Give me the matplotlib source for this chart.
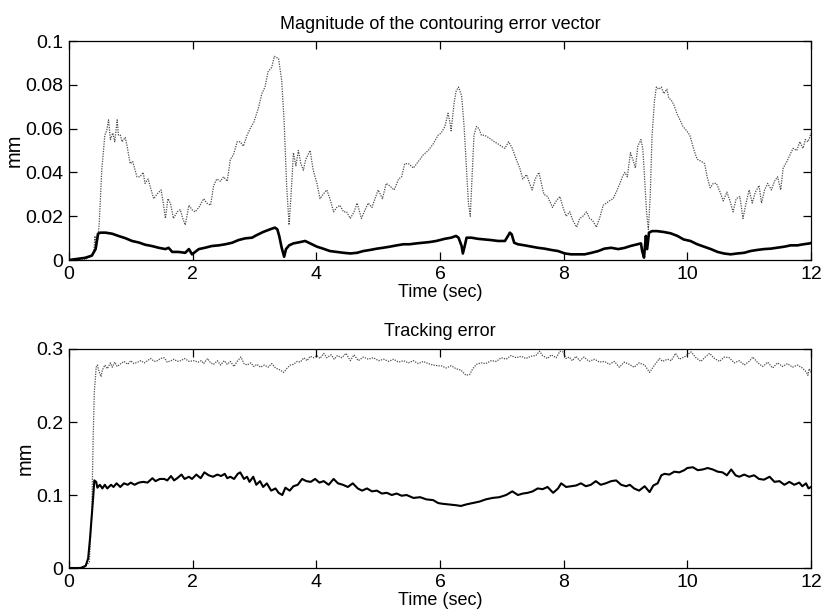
import matplotlib
matplotlib.use('Agg')
import matplotlib.pyplot as plt

# ---- data ----
top_dot_t = [0, 0.25, 0.37, 0.40, 0.42, 0.44, 0.47, 0.49, 0.53, 0.58, 0.61, 0.64, 0.67, 0.71, 0.74, 0.78, 0.80, 0.83,
             0.86, 0.91, 0.94, 0.99, 1.03, 1.06, 1.10, 1.15, 1.20, 1.23, 1.28, 1.32, 1.37, 1.42, 1.49, 1.53, 1.56, 1.60,
             1.64, 1.69, 1.75, 1.80, 1.84, 1.88, 1.94, 1.99, 2.04, 2.10, 2.18, 2.23, 2.29, 2.34, 2.39, 2.45, 2.50, 2.56,
             2.61, 2.66, 2.72, 2.77, 2.82, 2.88, 2.93, 2.99, 3.06, 3.12, 3.17, 3.22, 3.28, 3.32, 3.39, 3.44, 3.48, 3.52,
             3.56, 3.59, 3.63, 3.67, 3.71, 3.75, 3.79, 3.83, 3.90, 3.95, 4.01, 4.06, 4.11, 4.17, 4.22, 4.28, 4.33, 4.38,
             4.44, 4.49, 4.55, 4.61, 4.66, 4.73, 4.79, 4.84, 4.90, 4.95, 5.00, 5.07, 5.13, 5.18, 5.26, 5.33, 5.38, 5.43,
             5.49, 5.57, 5.65, 5.73, 5.81, 5.89, 5.97, 6.02, 6.08, 6.13, 6.16, 6.18, 6.23, 6.26, 6.30, 6.35, 6.39, 6.43,
             6.46, 6.49, 6.52, 6.55, 6.59, 6.63, 6.67, 6.72, 6.78, 6.83, 6.88, 6.94, 6.99, 7.05, 7.11, 7.17, 7.22, 7.29,
             7.34, 7.40, 7.45, 7.49, 7.54, 7.60, 7.64, 7.68, 7.74, 7.82, 7.88, 7.94, 7.99, 8.04, 8.10, 8.15, 8.21, 8.26,
             8.31, 8.37, 8.42, 8.47, 8.53, 8.58, 8.64, 8.69, 8.74, 8.80, 8.85, 8.91, 8.95, 8.99, 9.03, 9.08, 9.13, 9.16,
             9.20, 9.25, 9.28, 9.31, 9.34, 9.37, 9.40, 9.43, 9.47, 9.50, 9.54, 9.58, 9.62, 9.67, 9.70, 9.74, 9.78, 9.83,
             9.88, 9.93, 9.99, 10.04, 10.11, 10.16, 10.23, 10.28, 10.32, 10.37, 10.42, 10.47, 10.53, 10.58, 10.64,
             10.69, 10.74, 10.79, 10.85, 10.90, 10.95, 11.00, 11.05, 11.10, 11.16, 11.20, 11.25, 11.30, 11.36, 11.41,
             11.46, 11.51, 11.55, 11.61, 11.66, 11.71, 11.77, 11.82, 11.87, 11.91, 11.95, 11.98, 12.0]
top_dot = [0, 0.0, 0.002, 0.003, 0.011, 0.005, 0.010, 0.017, 0.041, 0.057, 0.059, 0.064, 0.055, 0.058, 0.054, 0.064,
           0.057, 0.057, 0.054, 0.056, 0.052, 0.044, 0.045, 0.042, 0.038, 0.038, 0.040, 0.035, 0.037, 0.033, 0.028,
           0.030, 0.032, 0.025, 0.019, 0.028, 0.026, 0.019, 0.022, 0.023, 0.019, 0.016, 0.025, 0.023, 0.022, 0.024,
           0.028, 0.026, 0.025, 0.034, 0.037, 0.036, 0.038, 0.036, 0.046, 0.048, 0.054, 0.054, 0.052, 0.057, 0.060,
           0.063, 0.069, 0.076, 0.079, 0.086, 0.088, 0.093, 0.092, 0.082, 0.063, 0.034, 0.016, 0.029, 0.049, 0.043,
           0.050, 0.044, 0.041, 0.046, 0.050, 0.041, 0.035, 0.028, 0.030, 0.032, 0.028, 0.022, 0.024, 0.025, 0.022,
           0.022, 0.019, 0.022, 0.026, 0.019, 0.023, 0.026, 0.024, 0.028, 0.032, 0.028, 0.035, 0.034, 0.032, 0.037,
           0.038, 0.044, 0.044, 0.042, 0.045, 0.048, 0.050, 0.053, 0.057, 0.058, 0.061, 0.067, 0.063, 0.059, 0.072,
           0.077, 0.079, 0.075, 0.061, 0.041, 0.026, 0.020, 0.038, 0.057, 0.061, 0.060, 0.057, 0.057, 0.056, 0.055,
           0.054, 0.053, 0.052, 0.051, 0.054, 0.051, 0.047, 0.042, 0.037, 0.039, 0.035, 0.032, 0.037, 0.040, 0.035,
           0.030, 0.029, 0.024, 0.027, 0.029, 0.024, 0.020, 0.022, 0.018, 0.015, 0.019, 0.020, 0.022, 0.019, 0.018,
           0.015, 0.019, 0.025, 0.026, 0.027, 0.028, 0.031, 0.035, 0.038, 0.040, 0.038, 0.049, 0.045, 0.042, 0.052,
           0.055, 0.051, 0.037, 0.022, 0.014, 0.029, 0.057, 0.073, 0.079, 0.078, 0.079, 0.076, 0.078, 0.074, 0.073,
           0.071, 0.067, 0.064, 0.061, 0.059, 0.057, 0.050, 0.046, 0.045, 0.044, 0.038, 0.033, 0.035, 0.035, 0.031,
           0.027, 0.031, 0.027, 0.022, 0.028, 0.029, 0.019, 0.026, 0.032, 0.026, 0.031, 0.034, 0.026, 0.032, 0.035,
           0.032, 0.036, 0.038, 0.032, 0.042, 0.045, 0.048, 0.051, 0.050, 0.054, 0.051, 0.055, 0.054, 0.056, 0.058]

top_sol_t = [0, 0.26, 0.37, 0.43, 0.47, 0.51, 0.59, 0.70, 0.80, 0.91, 1.02, 1.13, 1.23, 1.34, 1.45, 1.56, 1.61, 1.67,
             1.77, 1.88, 1.94, 1.99, 2.10, 2.20, 2.31, 2.42, 2.53, 2.64, 2.74, 2.85, 2.96, 3.03, 3.14, 3.25, 3.33, 3.37,
             3.40, 3.44, 3.48, 3.51, 3.56, 3.63, 3.74, 3.82, 3.90, 4.01, 4.11, 4.22, 4.33, 4.44, 4.55, 4.66, 4.76, 4.87,
             4.98, 5.08, 5.19, 5.30, 5.41, 5.51, 5.62, 5.72, 5.83, 5.94, 6.08, 6.18, 6.26, 6.30, 6.35, 6.37, 6.40, 6.43,
             6.51, 6.61, 6.72, 6.83, 6.94, 7.05, 7.10, 7.13, 7.16, 7.20, 7.26, 7.37, 7.48, 7.58, 7.69, 7.80, 7.91, 8.02,
             8.12, 8.23, 8.34, 8.45, 8.56, 8.66, 8.77, 8.88, 8.98, 9.08, 9.19, 9.25, 9.27, 9.30, 9.33, 9.35, 9.38, 9.43,
             9.51, 9.62, 9.73, 9.84, 9.94, 10.05, 10.16, 10.27, 10.38, 10.49, 10.59, 10.70, 10.81, 10.92, 11.02, 11.13,
             11.24, 11.35, 11.45, 11.57, 11.67, 11.78, 11.88, 11.98, 12.0]
top_sol = [0, 0.001, 0.002, 0.005, 0.012, 0.0125, 0.0125, 0.012, 0.011, 0.010, 0.0087, 0.008, 0.007, 0.0064, 0.0056,
           0.005, 0.0056, 0.0037, 0.0037, 0.0033, 0.005, 0.0026, 0.005, 0.0056, 0.0064, 0.0067, 0.0072, 0.0079,
           0.0091, 0.0099, 0.0102, 0.0113, 0.0128, 0.014, 0.0148, 0.014, 0.011, 0.0056, 0.0015, 0.005, 0.0067,
           0.0076, 0.0082, 0.0087, 0.0076, 0.0061, 0.0052, 0.0041, 0.0037, 0.0033, 0.003, 0.0033, 0.0041, 0.0046,
           0.0052, 0.0056, 0.0061, 0.0067, 0.0072, 0.0072, 0.0076, 0.0079, 0.0082, 0.0087, 0.0097, 0.0102, 0.011,
           0.0102, 0.0064, 0.003, 0.0064, 0.0102, 0.0102, 0.0097, 0.0094, 0.0091, 0.0087, 0.0087, 0.011, 0.0125,
           0.0117, 0.0079, 0.0072, 0.0067, 0.0061, 0.0056, 0.0052, 0.0046, 0.0041, 0.003, 0.0026, 0.0026, 0.0026,
           0.0033, 0.0041, 0.0052, 0.0056, 0.005, 0.0055, 0.0064, 0.0072, 0.0076, 0.0041, 0.0011, 0.011, 0.005,
           0.0125, 0.0132, 0.0132, 0.0128, 0.0122, 0.011, 0.0094, 0.0087, 0.0072, 0.0061, 0.005, 0.0037, 0.003,
           0.0026, 0.003, 0.0033, 0.0041, 0.0046, 0.005, 0.0052, 0.0056, 0.0061, 0.0067, 0.0067, 0.0072, 0.0076, 0.0078]

bot_dot_t = [0, 0.25, 0.33, 0.37, 0.39, 0.41, 0.44, 0.46, 0.49, 0.52, 0.54, 0.58, 0.62, 0.67, 0.70, 0.74, 0.78, 0.84,
             0.89, 0.95, 1.00, 1.05, 1.11, 1.16, 1.22, 1.27, 1.32, 1.38, 1.43, 1.48, 1.54, 1.59, 1.65, 1.70, 1.75, 1.81,
             1.87, 1.94, 2.02, 2.09, 2.14, 2.18, 2.24, 2.29, 2.34, 2.40, 2.45, 2.51, 2.56, 2.61, 2.67, 2.72, 2.78, 2.83,
             2.88, 2.94, 2.99, 3.04, 3.10, 3.16, 3.22, 3.28, 3.34, 3.42, 3.47, 3.53, 3.58, 3.63, 3.69, 3.74, 3.80, 3.85,
             3.90, 3.96, 4.01, 4.06, 4.12, 4.17, 4.24, 4.29, 4.34, 4.41, 4.48, 4.55, 4.61, 4.68, 4.76, 4.84, 4.92, 5.01,
             5.09, 5.17, 5.25, 5.33, 5.41, 5.49, 5.57, 5.65, 5.73, 5.81, 5.89, 5.97, 6.02, 6.10, 6.18, 6.26, 6.34, 6.42,
             6.48, 6.53, 6.59, 6.67, 6.74, 6.83, 6.91, 6.99, 7.07, 7.15, 7.23, 7.31, 7.39, 7.47, 7.55, 7.61, 7.66, 7.74,
             7.80, 7.88, 7.94, 7.99, 8.04, 8.09, 8.14, 8.20, 8.26, 8.33, 8.41, 8.50, 8.58, 8.66, 8.74, 8.82, 8.90, 8.98,
             9.06, 9.14, 9.22, 9.31, 9.39, 9.47, 9.55, 9.60, 9.68, 9.74, 9.81, 9.87, 9.95, 10.06, 10.14, 10.22, 10.29,
             10.36, 10.44, 10.52, 10.60, 10.68, 10.76, 10.84, 10.92, 11.00, 11.06, 11.14, 11.22, 11.30, 11.38, 11.46,
             11.54, 11.62, 11.70, 11.78, 11.86, 11.92, 11.95, 11.97, 12.0]
bot_dot = [0, 0.001, 0.008, 0.081, 0.173, 0.241, 0.275, 0.278, 0.268, 0.262, 0.271, 0.278, 0.273, 0.281, 0.275, 0.282,
           0.276, 0.280, 0.283, 0.279, 0.284, 0.280, 0.282, 0.284, 0.281, 0.284, 0.287, 0.283, 0.284, 0.287, 0.288,
           0.282, 0.284, 0.286, 0.283, 0.284, 0.287, 0.283, 0.284, 0.282, 0.284, 0.280, 0.287, 0.281, 0.279, 0.284,
           0.278, 0.284, 0.279, 0.283, 0.276, 0.283, 0.289, 0.280, 0.278, 0.281, 0.276, 0.279, 0.275, 0.278, 0.275,
           0.280, 0.274, 0.271, 0.268, 0.274, 0.278, 0.279, 0.283, 0.282, 0.288, 0.284, 0.290, 0.288, 0.291, 0.287,
           0.294, 0.288, 0.292, 0.286, 0.291, 0.288, 0.294, 0.284, 0.292, 0.284, 0.289, 0.286, 0.288, 0.284, 0.286,
           0.283, 0.286, 0.282, 0.284, 0.281, 0.284, 0.280, 0.283, 0.280, 0.278, 0.277, 0.277, 0.274, 0.277, 0.273,
           0.271, 0.264, 0.265, 0.273, 0.279, 0.281, 0.280, 0.284, 0.283, 0.288, 0.286, 0.291, 0.288, 0.290, 0.287,
           0.290, 0.291, 0.297, 0.291, 0.287, 0.292, 0.288, 0.297, 0.296, 0.287, 0.289, 0.284, 0.290, 0.284, 0.289,
           0.283, 0.286, 0.282, 0.283, 0.279, 0.283, 0.275, 0.282, 0.279, 0.275, 0.281, 0.278, 0.268, 0.278, 0.287,
           0.283, 0.286, 0.284, 0.294, 0.286, 0.289, 0.296, 0.288, 0.283, 0.289, 0.294, 0.287, 0.283, 0.289, 0.288,
           0.281, 0.284, 0.278, 0.283, 0.289, 0.281, 0.276, 0.282, 0.274, 0.281, 0.276, 0.280, 0.275, 0.278, 0.274,
           0.269, 0.264, 0.273, 0.268]

bot_sol_t = [0, 0.19, 0.27, 0.31, 0.34, 0.37, 0.39, 0.41, 0.44, 0.46, 0.50, 0.54, 0.58, 0.62, 0.68, 0.72, 0.77, 0.83,
             0.89, 0.95, 1.00, 1.06, 1.13, 1.20, 1.27, 1.35, 1.40, 1.47, 1.54, 1.59, 1.65, 1.70, 1.75, 1.82, 1.87, 1.94,
             1.99, 2.06, 2.13, 2.19, 2.26, 2.33, 2.40, 2.46, 2.52, 2.56, 2.61, 2.67, 2.73, 2.77, 2.83, 2.88, 2.92, 2.98,
             3.03, 3.09, 3.14, 3.20, 3.27, 3.34, 3.39, 3.45, 3.50, 3.57, 3.63, 3.70, 3.77, 3.84, 3.91, 3.98, 4.05, 4.12,
             4.20, 4.28, 4.35, 4.43, 4.51, 4.59, 4.67, 4.74, 4.82, 4.90, 4.98, 5.06, 5.14, 5.22, 5.30, 5.38, 5.46, 5.57,
             5.68, 5.78, 5.89, 5.97, 6.04, 6.15, 6.26, 6.34, 6.42, 6.53, 6.64, 6.74, 6.85, 6.96, 7.07, 7.17, 7.26, 7.34,
             7.42, 7.50, 7.58, 7.66, 7.74, 7.83, 7.91, 7.96, 8.04, 8.12, 8.20, 8.28, 8.36, 8.44, 8.52, 8.60, 8.68, 8.77,
             8.85, 8.93, 9.01, 9.07, 9.14, 9.22, 9.31, 9.39, 9.45, 9.52, 9.58, 9.63, 9.71, 9.79, 9.87, 9.95, 10.00,
             10.09, 10.17, 10.25, 10.33, 10.41, 10.49, 10.57, 10.64, 10.71, 10.78, 10.84, 10.92, 11.00, 11.08, 11.16,
             11.24, 11.33, 11.41, 11.49, 11.57, 11.65, 11.73, 11.81, 11.86, 11.92, 11.96, 12.0]
bot_sol = [0, 0, 0.003, 0.013, 0.040, 0.072, 0.095, 0.120, 0.118, 0.110, 0.114, 0.109, 0.114, 0.109, 0.114, 0.111,
           0.116, 0.111, 0.116, 0.114, 0.117, 0.114, 0.117, 0.118, 0.117, 0.123, 0.119, 0.122, 0.122, 0.120, 0.126,
           0.120, 0.123, 0.128, 0.122, 0.125, 0.122, 0.128, 0.123, 0.131, 0.127, 0.125, 0.128, 0.126, 0.129, 0.123,
           0.125, 0.122, 0.129, 0.131, 0.122, 0.125, 0.118, 0.125, 0.114, 0.119, 0.111, 0.116, 0.106, 0.109, 0.103,
           0.100, 0.110, 0.106, 0.112, 0.114, 0.122, 0.119, 0.118, 0.122, 0.117, 0.119, 0.114, 0.122, 0.116, 0.114,
           0.111, 0.116, 0.109, 0.106, 0.109, 0.105, 0.106, 0.102, 0.103, 0.100, 0.102, 0.099, 0.100, 0.096, 0.097,
           0.094, 0.093, 0.089, 0.088, 0.087, 0.086, 0.085, 0.087, 0.089, 0.091, 0.094, 0.096, 0.097, 0.100, 0.105,
           0.100, 0.102, 0.103, 0.105, 0.109, 0.108, 0.111, 0.103, 0.109, 0.116, 0.111, 0.112, 0.113, 0.116, 0.112,
           0.114, 0.119, 0.114, 0.116, 0.119, 0.120, 0.114, 0.112, 0.114, 0.109, 0.106, 0.112, 0.104, 0.113, 0.116,
           0.127, 0.129, 0.128, 0.132, 0.131, 0.134, 0.137, 0.138, 0.134, 0.135, 0.137, 0.135, 0.132, 0.131, 0.127,
           0.135, 0.127, 0.125, 0.128, 0.125, 0.127, 0.122, 0.121, 0.125, 0.118, 0.119, 0.114, 0.118, 0.114, 0.117,
           0.112, 0.116, 0.109, 0.111]

x_ticks = [0, 2, 4, 6, 8, 10, 12]
top_yticks = [0, 0.02, 0.04, 0.06, 0.08, 0.1]
top_ylabels = ['0', '0.02', '0.04', '0.06', '0.08', '0.1']
bot_yticks = [0, 0.1, 0.2, 0.3]
bot_ylabels = ['0', '0.1', '0.2', '0.3']

plt.rcParams['font.family'] = ['Liberation Sans', 'DejaVu Sans']

fig = plt.figure(figsize=(8.22, 6.14), dpi=100)
ax1 = fig.add_axes([0.0839, 0.5765, 0.9027, 0.3567])
ax2 = fig.add_axes([0.0839, 0.0749, 0.9027, 0.3567])


def style(ax, yticks, ylabels, ymax, title):
    ax.set_xlim(0, 12)
    ax.set_ylim(0, ymax)
    ax.set_xticks(x_ticks)
    ax.set_xticklabels([str(v) for v in x_ticks])
    ax.set_yticks(yticks)
    ax.set_yticklabels(ylabels)
    ax.tick_params(direction='in', length=6, width=0.9, top=True, right=True,
                   labelsize=14, pad=4)
    for s in ax.spines.values():
        s.set_linewidth(0.9)
    ax.set_title(title, fontsize=13, pad=9)
    ax.set_xlabel('Time (sec)', fontsize=13, labelpad=1)
    ax.set_ylabel('mm', fontsize=14.5, labelpad=1)


ax1.plot(top_dot_t, top_dot, ls=(0, (1, 1)), lw=0.9, color='0.3')
ax1.plot(top_sol_t, top_sol, ls='-', lw=1.9, color='black')
style(ax1, top_yticks, top_ylabels, 0.1, 'Magnitude of the contouring error vector')

ax2.plot(bot_dot_t, bot_dot, ls=(0, (1, 1)), lw=0.9, color='0.3')
ax2.plot(bot_sol_t, bot_sol, ls='-', lw=1.5, color='black')
style(ax2, bot_yticks, bot_ylabels, 0.3, 'Tracking error')

fig.savefig('out.png', dpi=100)
